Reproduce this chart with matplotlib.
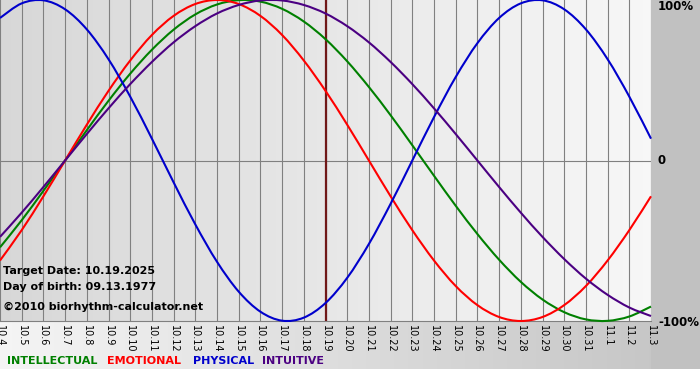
import numpy as np
import matplotlib.pyplot as plt
from matplotlib.path import Path
from matplotlib.patches import PathPatch

# days shown, 10.4 .. 11.3
day_labels = ["10.4", "10.5", "10.6", "10.7", "10.8", "10.9", "10.10", "10.11",
              "10.12", "10.13", "10.14", "10.15", "10.16", "10.17", "10.18",
              "10.19", "10.20", "10.21", "10.22", "10.23", "10.24", "10.25",
              "10.26", "10.27", "10.28", "10.29", "10.30", "10.31", "11.1",
              "11.2", "11.3"]
target_idx = 15

# cycle values (-1 .. 1)
intellectual = [-0.541, -0.372, -0.189, 0.000, 0.189, 0.372, 0.541, 0.690,
                0.815, 0.910, 0.972, 0.999, 0.990, 0.945, 0.866, 0.756, 0.618,
                0.458, 0.282, 0.095, -0.095, -0.282, -0.458, -0.618, -0.756,
                -0.866, -0.945, -0.990, -0.999, -0.972, -0.910]
emotional = [-0.623, -0.434, -0.223, 0.000, 0.223, 0.434, 0.623, 0.782,
             0.901, 0.975, 1.000, 0.975, 0.901, 0.782, 0.623, 0.434, 0.223,
             0.000, -0.223, -0.434, -0.623, -0.782, -0.901, -0.975, -1.000,
             -0.975, -0.901, -0.782, -0.623, -0.434, -0.223]
physical = [0.888, 0.979, 0.998, 0.942, 0.817, 0.631, 0.398, 0.136, -0.136,
            -0.398, -0.631, -0.817, -0.942, -0.998, -0.979, -0.888, -0.731,
            -0.520, -0.270, 0.000, 0.270, 0.520, 0.731, 0.888, 0.979, 0.998,
            0.942, 0.817, 0.631, 0.398, 0.136]
intuitive = [-0.476, -0.325, -0.165, 0.000, 0.165, 0.325, 0.476, 0.614,
             0.736, 0.837, 0.916, 0.969, 0.997, 0.997, 0.969, 0.916, 0.837,
             0.736, 0.614, 0.476, 0.325, 0.165, 0.000, -0.165, -0.325, -0.476,
             -0.614, -0.736, -0.837, -0.916, -0.969]

series = [("INTELLECTUAL", intellectual, "#008000"),
          ("EMOTIONAL", emotional, "#ff0000"),
          ("PHYSICAL", physical, "#0000cc"),
          ("INTUITIVE", intuitive, "#4b0082")]

W, H = 700, 380
PL, PR, PB = 0, 651, 321   # plot box in pixels


def smooth_path(xv, yv):
    # catmull-rom style bezier through the daily points
    p = np.column_stack([xv, yv]).astype(float)
    n = len(p)
    verts = [p[0]]
    codes = [Path.MOVETO]
    for i in range(n - 1):
        prev = p[i - 1] if i > 0 else p[i]
        nxt = p[i + 2] if i + 2 < n else p[i + 1]
        c1 = p[i] + (p[i + 1] - prev) / 6
        c2 = p[i + 1] - (nxt - p[i]) / 6
        verts += [c1, c2, p[i + 1]]
        codes += [Path.CURVE4] * 3
    return Path(verts, codes)


fig = plt.figure(figsize=(W / 100, H / 100), dpi=100)

# background panels
bg = np.ones((H, W, 3))
xs = np.linspace(0, 1, PR)
bg[:PB, :PR] = (0.845 + 0.125 * xs)[None, :, None]
bg[PB:369, :PR] = (0.96 - 0.18 * xs)[None, :, None]
bg[:369, PR:] = 0.76
bg_ax = fig.add_axes([0, 0, 1, 1])
bg_ax.imshow(bg, aspect="auto", interpolation="bilinear")
bg_ax.axis("off")

ax = fig.add_axes([PL / W, 1 - PB / H, (PR - PL) / W, PB / H])
ax.patch.set_alpha(0)
x = np.arange(len(day_labels))
for xi in x:
    ax.axvline(xi, color="#808080", lw=0.8, zorder=1)
ax.axhline(0, color="#808080", lw=0.8, zorder=1)
ax.axhline(-1, color="#808080", lw=0.8, zorder=1, clip_on=False)
ax.axvline(target_idx, color="#701818", lw=1.6, zorder=2)

for name, vals, color in series:
    ax.add_patch(PathPatch(smooth_path(x, vals), fill=False, edgecolor=color,
                           lw=1.5, zorder=3, clip_on=False))

ax.set_xlim(0, len(day_labels) - 1)
ax.set_ylim(-1, 1)
for s in ax.spines.values():
    s.set_visible(False)
ax.set_yticks([])
ax.set_xticks(x)
ax.set_xticklabels(day_labels, rotation=270, fontsize=7)
ax.tick_params(axis="x", length=0, pad=3)


def ftext(px, py, s, **kw):
    fig.text(px / W, 1 - py / H, s, **kw)


for lab, py in [("100%", 7), ("0", 161), ("-100%", 322)]:
    ftext(658, py, lab, fontsize=8.5, fontweight="bold", va="center", ha="left")

ftext(3, 271, "Target Date: 10.19.2025", fontsize=8, fontweight="bold", va="center")
ftext(3, 287, "Day of birth: 09.13.1977", fontsize=8, fontweight="bold", va="center")
ftext(3, 307, "\u00a92010 biorhythm-calculator.net", fontsize=8, fontweight="bold", va="center")

legend_x = [7, 107, 193, 262]
for (name, vals, color), lx in zip(series, legend_x):
    ftext(lx, 361, name, fontsize=8, fontweight="bold", color=color, va="center")

plt.savefig("out.png", dpi=100)
plt.close()
